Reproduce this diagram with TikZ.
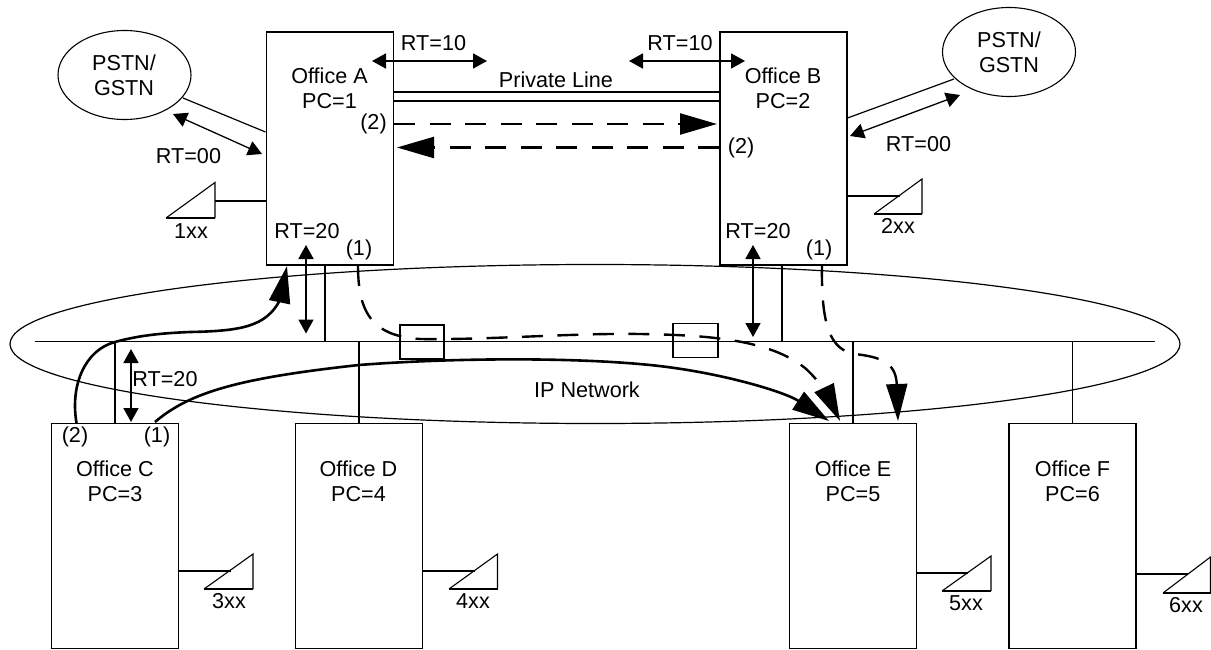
\documentclass[tikz,border=0pt]{standalone}
\usepackage{fontspec}
\setmainfont{Liberation Sans}
\usetikzlibrary{arrows.meta,shapes.geometric,calc}
\tikzset{
  x=1pt,y=-1pt,
  lbl/.style={inner sep=0pt,align=center,font=\fontsize{21.6}{25}\selectfont},
  office/.style={draw,line width=1.8pt,minimum width=127pt,minimum height=#1,inner sep=0pt},
  office/.default=225pt,
  cloud/.style={draw,ellipse,line width=1.1pt,minimum width=133pt,minimum height=89pt,inner sep=0pt},
  thin line/.style={line width=1.2pt},
  stub/.style={line width=1.8pt},
  tri/.style={line width=1.1pt},
  triB/.style={line width=1.8pt},
  dbl/.style={line width=1.8pt,{Triangle[length=14pt,width=15pt]}-{Triangle[length=14pt,width=15pt]}},
  dblthin/.style={line width=1.3pt,{Triangle[length=14pt,width=15pt]}-{Triangle[length=14pt,width=15pt]}},
  bighead/.style={-{Triangle[length=37pt,width=21pt]}},
  dashline/.style={line width=2.4pt,dash pattern=on 21pt off 14.5pt,bighead},
  solidcurve/.style={line width=2.6pt,bighead},
  smallbox/.style={draw,line width=1.8pt,minimum width=44pt,minimum height=34pt,inner sep=0pt},
}
\begin{document}
\begin{tikzpicture}
\useasboundingbox (0,0) rectangle (1211,650);
% IP network cloud and bus
\node[draw,ellipse,line width=1.2pt,minimum width=1170pt,minimum height=159pt,inner sep=0pt] (net) at (595,344) {};
\coordinate (busL) at (35,341.5);
\coordinate (busR) at (1155,341.5);
\draw[line width=1.2pt] (busL) -- (busR);
\node[lbl] (iplabel) at (587,390) {IP Network};
% offices
\node[office=233pt] (A) at (330,148.5) {};
\node[office=233pt] (B) at (783.5,148.5) {};
\node[office] (C) at (115,536) {};
\node[office] (D) at (359,536) {};
\node[office] (E) at (853,536) {};
\node[office] (F) at (1072.5,536) {};
\node[lbl] (Alabel) at (329.5,88) {Office A\\PC=1};
\node[lbl] (Blabel) at (783,88) {Office B\\PC=2};
\node[lbl] (Clabel) at (115,481) {Office C\\PC=3};
\node[lbl] (Dlabel) at (358.5,481) {Office D\\PC=4};
\node[lbl] (Elabel) at (853,481) {Office E\\PC=5};
\node[lbl] (Flabel) at (1072.5,481) {Office F\\PC=6};
% PSTN clouds
\node[cloud] (P1) at (124.5,75) {};
\node[lbl] (P1label) at (124,75) {PSTN/\\GSTN};
\node[cloud] (P2) at (1009,52) {};
\node[lbl] (P2label) at (1009,52) {PSTN/\\GSTN};
% PSTN links
\coordinate (P1a) at (183,98);
\coordinate (A1a) at (265.5,132);
\draw[thin line] (P1a) -- (A1a);
\coordinate (P1b) at (173,114);
\coordinate (A1b) at (262,154);
\draw[dblthin] (P1b) -- (A1b);
\node[lbl] (rt00a) at (188.5,156) {RT=00};
\coordinate (B2a) at (847.5,118);
\coordinate (P2a) at (954,79);
\draw[thin line] (B2a) -- (P2a);
\coordinate (B2b) at (850,136);
\coordinate (P2b) at (960,95);
\draw[dblthin] (B2b) -- (P2b);
\node[lbl] (rt00b) at (918.5,144) {RT=00};
% RT=10
\node[lbl] (rt10a) at (433.5,43.5) {RT=10};
\coordinate (a10l) at (372,61);
\coordinate (a10r) at (487,61);
\draw[dbl] (a10l) -- (a10r);
\node[lbl] (rt10b) at (680,43.5) {RT=10};
\coordinate (b10l) at (629,61);
\coordinate (b10r) at (745,61);
\draw[dbl] (b10l) -- (b10r);
% private line
\node[lbl] (pl) at (556,79.5) {Private Line};
\draw[stub] ([yshift=56.5pt]A.east) -- ([yshift=56.5pt]B.west);
\draw[stub] ([yshift=47.5pt]A.east) -- ([yshift=47.5pt]B.west);
% dashed between A and B
\coordinate (tipB) at (717,124);
\coordinate (tipA) at (397,147.5);
\draw[dashline] ([yshift=24.5pt]A.east) -- (tipB);
\draw[dashline] ([yshift=1pt]B.west) -- (tipA);
\node[lbl] (A2) at (373.5,124) {(2)};
\node[lbl] (B2) at (741,147.5) {(2)};
% RT=20 labels in A and B
\node[lbl] (rt20a) at (307,231.5) {RT=20};
\node[lbl] (rt20b) at (758,231.5) {RT=20};
\node[lbl] (A1) at (359,250) {(1)};
\node[lbl] (B1) at (819,250) {(1)};
\coordinate (aT) at (306,245); \coordinate (aB) at (306,333.5);
\draw[dbl] (aT) -- (aB);
\coordinate (bT) at (753,245); \coordinate (bB) at (753,337);
\draw[dbl] (bT) -- (bB);
% bus stubs
\draw[stub] ([xshift=-5pt]A.south) -- ([xshift=-5pt]A.south |- busL);
\draw[stub] ([xshift=-1.5pt]B.south) -- ([xshift=-1.5pt]B.south |- busL);
\draw[stub] (C.north) -- (C.north |- busL);
\draw[stub] (D.north) -- (D.north |- busL);
\draw[stub] (E.north) -- (E.north |- busL);
\draw[stub] (F.north) -- (F.north |- busL);
\coordinate (cT) at (131,349); \coordinate (cB) at (131,422);
\draw[dbl] (cT) -- (cB);
\node[lbl] (rt20c) at (165,379) {RT=20};
\node[lbl] (C2) at (75,437) {(2)};
\node[lbl] (C1) at (157,437) {(1)};
% small boxes
\node[smallbox] (s1) at (422,342) {};
\node[smallbox,minimum width=45pt] (s2) at (695.5,340.5) {};
% solid curves
\coordinate (c2s) at (76.5,423);
\coordinate (c1s) at (155,422);
\coordinate (tipA2) at (287,266);
\coordinate (tipE1) at (829,421);
\coordinate (tipE2) at (840,421);
\coordinate (tipE3) at (898,421);
\coordinate (a1s) at (358,265);
\coordinate (b1s) at (822,265);
\draw[solidcurve] (c2s) .. controls (70,385) and (85,350) .. (115,342)
  .. controls (140,335) and (165,333) .. (190,332)
  .. controls (240,331) and (266,327) .. (280,300) -- (tipA2);
\draw[solidcurve] (c1s) .. controls (190,392) and (240,378) .. (359,365)
  .. controls (450,358) and (570,357) .. (650,365)
  .. controls (720,372) and (785,392) .. (tipE1);
% dashed curves
\draw[dashline] (a1s) .. controls (358,310) and (370,336) .. (420,339)
  .. controls (490,340) and (570,333) .. (640,334)
  .. controls (710,335) and (770,340) .. (805,368)
  .. controls (820,381) and (830,400) .. (tipE2);
\draw[dashline] (b1s) .. controls (821,325) and (830,350) .. (855,354)
  .. controls (880,357) and (896,362) .. (tipE3);
% phone triangles
\coordinate (t1a) at (166,218); \coordinate (t1b) at (215,218); \coordinate (t1c) at (215,182.5); \coordinate (t1d) at (215,201);
\draw[tri] (t1a) -- (t1c) -- (t1b); \draw[triB] (t1a) -- (t1b);
\draw[stub] (t1d) -- (A.west |- t1d);
\node[lbl] (n1) at (191,231) {1xx};
\coordinate (t2a) at (874,214); \coordinate (t2b) at (922,214); \coordinate (t2c) at (922,179); \coordinate (t2d) at (900,196);
\draw[tri] (t2a) -- (t2c) -- (t2b); \draw[triB] (t2a) -- (t2b);
\draw[stub] (B.east |- t2d) -- (t2d);
\node[lbl] (n2) at (898,226) {2xx};
\coordinate (t3a) at (204,589); \coordinate (t3b) at (253,589); \coordinate (t3c) at (253,554); \coordinate (t3d) at (231,571);
\draw[tri] (t3a) -- (t3c) -- (t3b); \draw[triB] (t3a) -- (t3b);
\draw[stub] (C.east |- t3d) -- (t3d);
\node[lbl] (n3) at (229,601) {3xx};
\coordinate (t4a) at (449,589); \coordinate (t4b) at (497.5,589); \coordinate (t4c) at (497.5,554); \coordinate (t4d) at (475,571);
\draw[tri] (t4a) -- (t4c) -- (t4b); \draw[triB] (t4a) -- (t4b);
\draw[stub] (D.east |- t4d) -- (t4d);
\node[lbl] (n4) at (473,601) {4xx};
\coordinate (t5a) at (942,591); \coordinate (t5b) at (991,591); \coordinate (t5c) at (991,556); \coordinate (t5d) at (968,573);
\draw[tri] (t5a) -- (t5c) -- (t5b); \draw[triB] (t5a) -- (t5b);
\draw[stub] (E.east |- t5d) -- (t5d);
\node[lbl] (n5) at (966,603) {5xx};
\coordinate (t6a) at (1163,593); \coordinate (t6b) at (1210.5,593); \coordinate (t6c) at (1210.5,557); \coordinate (t6d) at (1188,574);
\draw[tri] (t6a) -- (t6c) -- (t6b); \draw[triB] (t6a) -- (t6b);
\draw[stub] (F.east |- t6d) -- (t6d);
\node[lbl] (n6) at (1186,605) {6xx};
\end{tikzpicture}
\end{document}
